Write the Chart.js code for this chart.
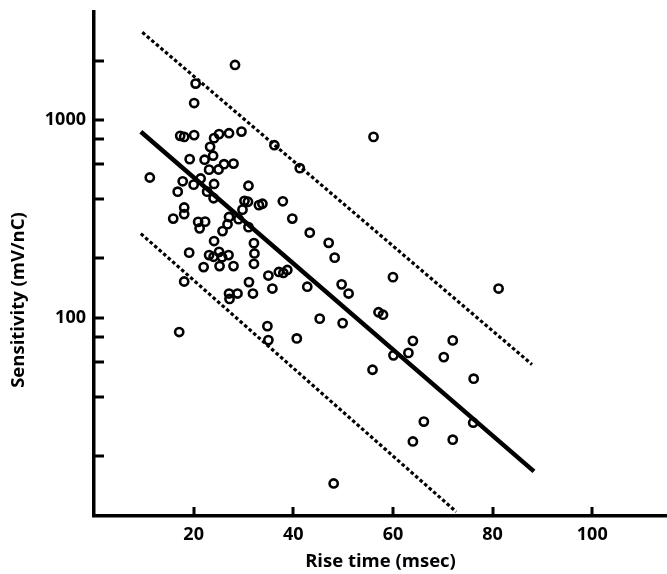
<!DOCTYPE html>
<html>
<head>
<meta charset="utf-8">
<script src="https://cdn.jsdelivr.net/npm/chart.js@4/dist/chart.umd.min.js"></script>
<style>
  html, body { margin: 0; padding: 0; background: #fff; }
  #wrap { width: 667px; height: 574px; }
</style>
</head>
<body>
<div id="wrap"><canvas id="c" width="667" height="574"></canvas></div>
<script>
// ---- data ----
const riseTime = [
  28.3, 20.4, 20.1, 17.3, 18.1, 20.1, 24.1, 25.1, 27.1, 29.6,
  36.2, 41.3, 56.1, 23.3, 23.9, 22.2, 19.2, 23.1, 25.0, 26.1,
  28.0, 11.2, 21.4, 17.8, 20.0, 24.1, 31.0, 16.8, 22.7, 24.0,
  30.2, 30.9, 33.1, 33.8, 37.9, 18.1, 18.1, 15.9, 20.9, 22.3,
  21.2, 27.1, 26.8, 25.8, 29.0, 29.8, 31.0, 39.8, 43.3, 24.1,
  32.1, 47.1, 19.1, 23.1, 25.1, 24.0, 25.7, 27.0, 32.2, 48.3,
  22.0, 25.2, 28.0, 32.1, 35.0, 37.1, 38.0, 38.8, 60.0, 18.1,
  31.1, 35.8, 42.8, 49.7, 51.1, 81.2, 27.1, 28.8, 27.2, 31.9,
  45.3, 49.9, 57.1, 58.0, 17.1, 34.8, 35.0, 40.7, 64.0, 72.0,
  60.1, 63.1, 70.2, 55.9, 76.2, 66.2, 76.1, 64.0, 72.0, 48.1
];
const sensitivity = [
  1900, 1530, 1220, 833, 823, 840, 811, 850, 859, 875,
  747, 572, 823, 733, 661, 631, 635, 562, 563, 599,
  603, 513, 507, 491, 472, 476, 466, 435, 435, 403,
  391, 387, 372, 378, 389, 362, 335, 318, 306, 307,
  284, 324, 298, 275, 316, 353, 288, 318, 270, 245,
  239, 240, 214, 208, 216, 204, 203, 208, 212, 202,
  181, 183, 183, 188, 164, 171, 169, 175, 161, 153,
  152, 141, 144, 148, 133, 141, 133, 133, 125, 133,
  99.3, 94.3, 107, 104, 85.0, 91.0, 77.4, 78.9, 76.7, 77.1,
  64.8, 66.7, 63.5, 54.8, 49.4, 30.0, 29.6, 23.8, 24.3, 14.6
];
// regression line and its two limit lines (end points)
const fitLineX = [9.4, 88.3];
const fitLineY = [873, 16.8];
const upperLineX = [9.7, 87.9];
const upperLineY = [2777, 58.3];
const lowerLineX = [9.4, 72.7];
const lowerLineY = [267, 10.5];
// axis ticks
const xTickValues = [20, 40, 60, 80, 100];
const yTickValues = [20, 40, 60, 80, 100, 200, 400, 600, 800, 1000, 2000];
const yLabelValues = [100, 1000];
const xTitle = 'Rise time (msec)';
const yTitle = 'Sensitivity (mV/nC)';

// ---- chart ----
const pts = riseTime.map((x, i) => ({ x: x, y: sensitivity[i] }));
const seg = (xs, ys) => xs.map((x, i) => ({ x: x, y: ys[i] }));
const FONT = '"Open Sans", Lato, "DejaVu Sans", sans-serif';

const inwardTicks = {
  id: 'inwardTicks',
  afterDraw(chart) {
    const ctx = chart.ctx;
    const area = chart.chartArea;
    const xs = chart.scales.x, ys = chart.scales.y;
    ctx.save();
    ctx.strokeStyle = '#000';
    ctx.lineWidth = 3;
    ctx.lineCap = 'butt';
    yTickValues.forEach(v => {
      const py = Math.round(ys.getPixelForValue(v));
      ctx.beginPath();
      ctx.moveTo(area.left, py);
      ctx.lineTo(area.left + 10, py);
      ctx.stroke();
    });
    xTickValues.forEach(v => {
      const px = Math.round(xs.getPixelForValue(v));
      ctx.beginPath();
      ctx.moveTo(px, area.bottom);
      ctx.lineTo(px, area.bottom - 9);
      ctx.stroke();
    });
    // y axis title, placed where the reference has it
    ctx.translate(19, 300);
    ctx.rotate(-Math.PI / 2);
    ctx.fillStyle = '#000';
    ctx.font = 'bold 18.5px ' + FONT;
    ctx.textAlign = 'center';
    ctx.textBaseline = 'middle';
    ctx.fillText(yTitle, 0, 0);
    ctx.restore();
  }
};

new Chart(document.getElementById('c'), {
  type: 'scatter',
  data: {
    datasets: [
      {
        data: pts,
        pointStyle: 'circle',
        pointRadius: 4.1,
        pointBorderWidth: 2.6,
        pointBorderColor: '#000',
        pointBackgroundColor: 'rgba(255,255,255,0)',
        showLine: false
      },
      {
        type: 'line',
        data: seg(fitLineX, fitLineY),
        borderColor: '#000',
        borderWidth: 4.5,
        pointRadius: 0,
        fill: false
      },
      {
        type: 'line',
        data: seg(upperLineX, upperLineY),
        borderColor: '#000',
        borderWidth: 3.2,
        borderDash: [3.5, 2.5],
        pointRadius: 0,
        fill: false
      },
      {
        type: 'line',
        data: seg(lowerLineX, lowerLineY),
        borderColor: '#000',
        borderWidth: 3.2,
        borderDash: [3.5, 2.5],
        pointRadius: 0,
        fill: false
      }
    ]
  },
  options: {
    responsive: false,
    animation: false,
    devicePixelRatio: 1,
    layout: { autoPadding: false, padding: { top: 12, right: 0, left: 0, bottom: 0 } },
    plugins: { legend: { display: false }, tooltip: { enabled: false } },
    scales: {
      x: {
        type: 'linear',
        min: 0,
        max: 115,
        afterBuildTicks: s => { s.ticks = xTickValues.map(v => ({ value: v })); },
        afterFit: s => { s.height = 58; },
        grid: { display: false, drawTicks: false },
        border: { display: true, color: '#000', width: 3.5 },
        ticks: {
          autoSkip: false,
          maxRotation: 0,
          padding: 8,
          color: '#000',
          font: { family: FONT, size: 18, weight: 'bold' },
          callback: v => String(v)
        },
        title: {
          display: true,
          text: xTitle,
          color: '#000',
          padding: { top: 0, bottom: 1 },
          font: { family: FONT, size: 18.5, weight: 'bold' }
        }
      },
      y: {
        type: 'logarithmic',
        min: 10,
        max: 3518,
        afterBuildTicks: s => { s.ticks = yTickValues.map(v => ({ value: v })); },
        afterFit: s => { s.width = 94; },
        grid: { display: false, drawTicks: false },
        border: { display: true, color: '#000', width: 3.5 },
        ticks: {
          autoSkip: false,
          padding: 8,
          color: '#000',
          font: { family: FONT, size: 18, weight: 'bold', lineHeight: 0.4 },
          callback: v => (yLabelValues.includes(v) ? String(v) : '')
        },
        title: { display: false, text: yTitle }
      }
    }
  },
  plugins: [inwardTicks]
});
</script>
</body>
</html>
